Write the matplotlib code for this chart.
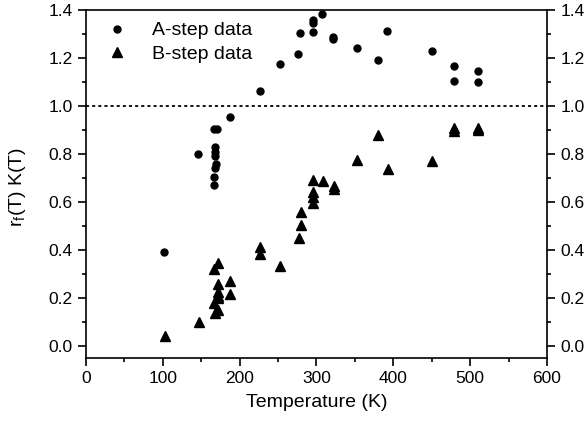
import matplotlib
matplotlib.use('Agg')
import matplotlib.pyplot as plt
from matplotlib.ticker import MultipleLocator, FormatStrFormatter

plt.rcParams['font.family'] = ['Liberation Sans', 'DejaVu Sans']

# A-step data (circles)
a_temp = [101, 146, 166, 170, 168, 168, 168, 169, 168, 167, 167, 187, 226, 252, 276, 278,
          295, 295, 295, 307, 322, 322, 353, 380, 392, 450, 479, 479, 510, 510]
a_val = [0.39, 0.80, 0.905, 0.905, 0.83, 0.81, 0.79, 0.76, 0.74, 0.705, 0.67, 0.955, 1.064,
         1.175, 1.215, 1.303, 1.307, 1.345, 1.358, 1.383, 1.289, 1.278, 1.24, 1.194,
         1.314, 1.229, 1.167, 1.104, 1.146, 1.10]

# B-step data (triangles)
b_temp = [103, 147, 172, 167, 172, 172, 172, 172, 167, 172, 168, 188, 188, 226, 226, 252,
          277, 280, 280, 296, 308, 296, 296, 296, 323, 323, 353, 380, 393, 450,
          479, 479, 510, 510]
b_val = [0.04, 0.10, 0.345, 0.32, 0.26, 0.226, 0.21, 0.20, 0.178, 0.15, 0.136, 0.27, 0.215,
         0.414, 0.383, 0.333, 0.449, 0.504, 0.557, 0.692, 0.688, 0.643, 0.622, 0.597,
         0.667, 0.653, 0.775, 0.879, 0.738, 0.772, 0.91, 0.896, 0.91, 0.90]

fs = 14        # labels and legend
tick_fs = 12.5

fig = plt.figure(figsize=(5.85, 4.22), dpi=100)
ax = fig.add_axes([0.147, 0.152, 0.788, 0.824])

ax.plot(a_temp, a_val, 'o', color='black', markersize=5, label='A-step data')
ax.plot(b_temp, b_val, '^', color='black', markersize=7, label='B-step data')
ax.axhline(1.0, color='black', linestyle=(0, (1.7, 1.7)), linewidth=1.3)

ax.set_xlim(0, 600)
ax.set_ylim(-0.05, 1.4)
ax.xaxis.set_major_locator(MultipleLocator(100))
ax.xaxis.set_minor_locator(MultipleLocator(50))
ax.yaxis.set_major_locator(MultipleLocator(0.2))
ax.yaxis.set_minor_locator(MultipleLocator(0.1))
ax.yaxis.set_major_formatter(FormatStrFormatter('%.1f'))

for s in ax.spines.values():
    s.set_linewidth(1.2)
ax.tick_params(which='both', direction='out', width=1.2, labelsize=tick_fs,
               left=True, right=True, labelright=True, top=False, bottom=True)
ax.tick_params(which='major', length=6)
ax.tick_params(which='minor', length=3)

ax.set_xlabel('Temperature (K)', fontsize=fs, labelpad=6)
ax.set_ylabel(r'r$_{\mathregular{f}}$(T) K(T)', fontsize=fs)
ax.yaxis.set_label_coords(-0.126, 0.49)

ax.legend(loc='upper left', frameon=False, fontsize=fs, handlelength=1.0,
          handletextpad=1.3, labelspacing=0.3, borderaxespad=0.2,
          bbox_to_anchor=(0.021, 1.0))

fig.savefig('out.png', dpi=100)
